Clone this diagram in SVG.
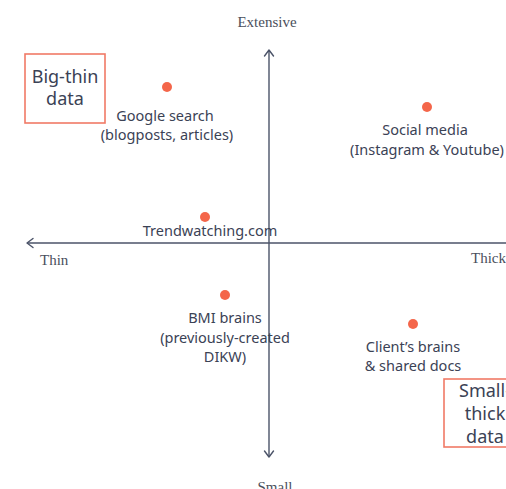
<svg xmlns="http://www.w3.org/2000/svg" width="506" height="489" viewBox="0 0 506 489">
<defs>
<style>
.ax{stroke:#4b5368;stroke-width:1.4;fill:none}
.ah{stroke:#4b5368;stroke-width:1.4;fill:none;stroke-linecap:round;stroke-linejoin:round}
.sf{font-family:"Liberation Serif",serif;font-size:15px;fill:#4a4f5c}
.lb{font-family:"Noto Sans",sans-serif;font-size:14.5px;fill:#3b4255;text-anchor:middle}
.bx{font-family:"Noto Sans",sans-serif;font-size:18px;fill:#3b4255;text-anchor:middle}
.dot{fill:#f4664a}
.box{fill:none;stroke:#f07a66;stroke-width:1.6}
</style>
</defs>
<rect width="506" height="489" fill="#ffffff"/>
<g id="axes">
<line class="ax" x1="269" y1="50" x2="269" y2="457"/>
<polyline class="ah" points="264.5,56 269,50 273.5,56"/>
<polyline class="ah" points="264.5,451 269,457 273.5,451"/>
<line class="ax" x1="27" y1="243" x2="506" y2="243"/>
<polyline class="ah" points="33,238.5 27,243 33,247.5"/>
</g>
<g id="axis-labels">
<text class="sf" x="267" y="27" text-anchor="middle">Extensive</text>
<text class="sf" x="40" y="265">Thin</text>
<text class="sf" x="471" y="263">Thick</text>
<text class="sf" x="275" y="492" text-anchor="middle">Small</text>
</g>
<g id="big-thin">
<rect class="box" x="25" y="54" width="80" height="69"/>
<text class="bx" x="65" y="83">Big-thin</text>
<text class="bx" x="65" y="105">data</text>
</g>
<g id="small-thick">
<rect class="box" x="444" y="379" width="80" height="68"/>
<text class="bx" x="485" y="397">Small-</text>
<text class="bx" x="485" y="420">thick</text>
<text class="bx" x="485" y="443">data</text>
</g>
<g id="google">
<circle class="dot" cx="167" cy="87" r="5"/>
<text class="lb" x="165" y="121">Google search</text>
<text class="lb" x="167" y="140">(blogposts, articles)</text>
</g>
<g id="social">
<circle class="dot" cx="427" cy="107" r="5"/>
<text class="lb" x="425" y="135">Social media</text>
<text class="lb" x="427" y="155">(Instagram &amp; Youtube)</text>
</g>
<g id="trend">
<circle class="dot" cx="205" cy="217" r="5"/>
<text class="lb" x="210" y="236">Trendwatching.com</text>
</g>
<g id="bmi">
<circle class="dot" cx="225" cy="295" r="5"/>
<text class="lb" x="225" y="323">BMI brains</text>
<text class="lb" x="225" y="343">(previously-created</text>
<text class="lb" x="225" y="362">DIKW)</text>
</g>
<g id="client">
<circle class="dot" cx="413" cy="324" r="5"/>
<text class="lb" x="413" y="352">Client’s brains</text>
<text class="lb" x="413" y="371">&amp; shared docs</text>
</g>
</svg>
